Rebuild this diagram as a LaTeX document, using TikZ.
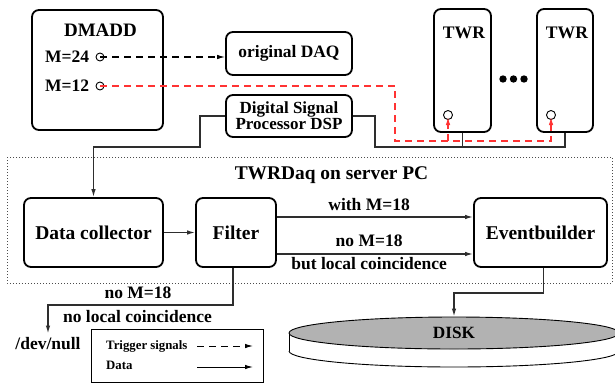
\documentclass[tikz,border=0pt]{standalone}
\usepackage{fontspec}
\setmainfont{Liberation Serif}
\usetikzlibrary{arrows.meta,shapes.geometric}
\tikzset{
 fs/.style={font=\fontsize{#1}{#1}\selectfont\bfseries},
 box/.style={draw, line width=1.8pt, rounded corners=7pt, inner sep=0pt},
 data/.style={draw=black!82, line width=1.3pt},
 tip/.style={-{Latex[length=8pt,width=4.5pt]}},
 trig/.style={dash pattern=on 7pt off 5pt, line width=1.1pt},
 port/.style={circle, draw, line width=0.9pt, inner sep=0pt, minimum size=8pt},
 lbl/.style={fs=17.5, inner sep=0pt},
 serverbox/.style={draw=black!70, line width=1pt, dash pattern=on 1.2pt off 1.8pt},
}
\begin{document}
\begin{tikzpicture}[x=1pt,y=-1pt]
\useasboundingbox (0,0) rectangle (615,383);
\fill[white] (0,0) rectangle (615,383);

% server PC frame
\draw[serverbox] (7,157) rectangle (612,283);
\node[fs=19.4, inner sep=0pt] (srv) at (331.5,175) {TWRDaq on server PC};

% DMADD
\node[box, minimum width=131pt, minimum height=120pt] (dmadd) at (97.5,70) {};
\node[fs=19, inner sep=0pt] (dmaddt) at (100.5,30) {DMADD};
\node[lbl] (m24) at (67,57) {M=24};
\node[lbl] (m12) at (67,86) {M=12};
\node[port] (c24) at (100,57) {};
\node[port] (c12) at (100,86) {};

% original DAQ and DSP
\node[box, fs=17.4, minimum width=126pt, minimum height=43pt] (odaq) at (289,53.5) {original DAQ};
\node[box, font=\fontsize{17}{15}\selectfont\bfseries, align=center, minimum width=126pt, minimum height=42pt] (dsp) at (289,116) {Digital Signal\\Processor DSP};

% TWR boxes
\node[box, minimum width=57pt, minimum height=123pt] (twr1) at (462.5,70.5) {};
\node[box, minimum width=56pt, minimum height=123pt] (twr2) at (565,70.5) {};
\node[fs=17.6, inner sep=0pt] (twr1t) at (464,33) {TWR};
\node[fs=17.6, inner sep=0pt] (twr2t) at (567,33) {TWR};
\node[port, minimum size=9pt] (t1c) at (448,115) {};
\node[port, minimum size=9pt] (t2c) at (551,115) {};
\fill (503,79) circle[radius=3.7pt];
\fill (513.5,79) circle[radius=3.7pt];
\fill (524,79) circle[radius=3.7pt];

% PC boxes
\node[box, fs=19.5, minimum width=139pt, minimum height=69pt] (dc) at (93.5,232.5) {Data collector};
\node[box, fs=19.5, minimum width=80pt, minimum height=69pt] (filter) at (236,232.5) {Filter};
\node[box, fs=19.5, minimum width=133pt, minimum height=69pt] (eb) at (540.5,232.5) {Eventbuilder};

% disk
\fill[white] (289,333) rectangle (619,351);
\fill[white] (454,351) ellipse[x radius=165pt, y radius=16pt];
\begin{scope}
\clip (280,351) rectangle (630,383);
\draw[line width=0.9pt] (454,351) ellipse[x radius=165pt, y radius=16pt];
\end{scope}
\draw[line width=0.9pt] (289,333) -- (289,351);
\node[ellipse, draw, line width=0.9pt, fill=black!30, inner sep=0pt, minimum width=330pt, minimum height=32pt, fs=17.2] (disk) at (454,333) {DISK};

% trigger signals
\draw[trig, tip] (c24.center) -- (c24.center -| odaq.west);
\coordinate (rj) at (395,141);
\draw[trig, red!80, tip, shorten >=2pt] (c12.center) -| (rj) -| (t2c.center);
\draw[trig, red!80, tip, shorten >=2pt] (t1c.center |- rj) -- (t1c.center);

% data lines
\coordinate (bj) at (375,147);
\draw[data] (twr2.south) |- (bj) |- (dsp.east);
\draw[data] (twr1.south) -- (twr1.south |- bj);
\coordinate (lj) at (200,147);
\draw[data, tip] (dsp.west) -| (lj) -| (dc.north);
\draw[data, tip] (dc) -- (filter);
\draw[data, tip] ([yshift=15.5pt]filter.east) -- ([yshift=15.5pt]eb.west)
  node[lbl, pos=0.47, above=6pt] (lw) {with M=18};
\draw[data, tip] ([yshift=-21.5pt]filter.east) -- ([yshift=-21.5pt]eb.west)
  node[lbl, pos=0.47, above=7pt] (ln) {no M=18}
  node[lbl, pos=0.47, below=2.5pt] (lb) {but local coincidence};

% to /dev/null
\node[lbl, anchor=north] (devnull) at (48,337.5) {/dev/null};
\coordinate (nj) at (48,305);
\draw[data, tip, shorten >=4pt] ([xshift=-3pt]filter.south) |- (nj) -- (devnull.north);
\node[lbl] (nm) at (138,293) {no M=18};
\node[lbl] (nlc) at (137.5,317) {no local coincidence};

% to disk
\coordinate (dj) at (454,293);
\draw[data, tip] ([xshift=3pt]eb.south) |- (dj) -- (disk.north);

% legend
\node[draw, line width=1pt, inner sep=0pt, minimum width=172pt, minimum height=53pt] (legend) at (177,355.5) {};
\node[fs=12.8, inner sep=0pt, anchor=west] (lt) at (106,346) {Trigger signals};
\node[fs=12.8, inner sep=0pt, anchor=west] (ld) at (106,365) {Data};
\coordinate (la1) at (197,346);
\coordinate (la2) at (253,346);
\coordinate (lb1) at (197,367);
\coordinate (lb2) at (253,367);
\draw[trig, tip, line width=1pt] (la1) -- (la2);
\draw[tip, line width=1pt] (lb1) -- (lb2);
\end{tikzpicture}
\end{document}
